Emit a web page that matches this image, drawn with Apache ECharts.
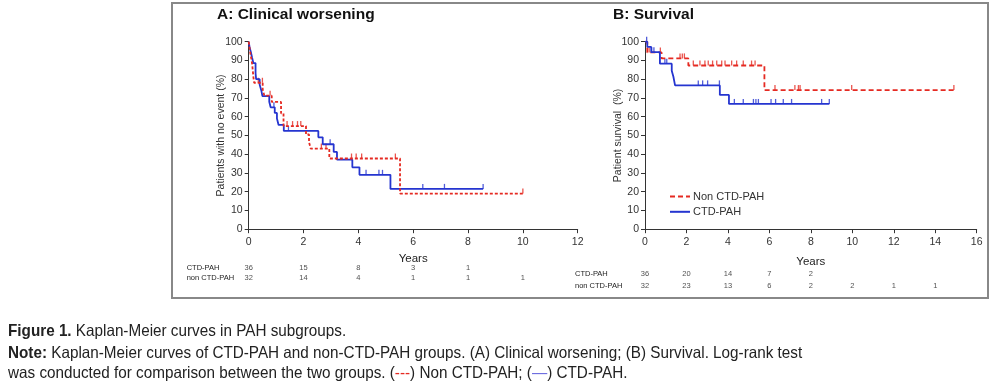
<!DOCTYPE html>
<html>
<head>
<meta charset="utf-8">
<script src="https://cdn.jsdelivr.net/npm/echarts@6/dist/echarts.min.js"></script>
<style>
html,body{margin:0;padding:0;background:#fff;}
#chart{width:995px;height:385px;}
</style>
</head>
<body>
<div id="chart"></div>
<script>
// ---------- Panel A: clinical worsening (time in years, % with no event) ----------
const ctdA = [[0,100],[0.03,97.2],[0.08,94.4],[0.12,91.7],[0.17,88.6],[0.25,83.3],[0.27,80],[0.40,77],[0.46,74],[0.50,71],[0.75,68],[0.80,65],[0.95,62],[1.03,59],[1.09,55.6],[1.28,52.4],[2.54,49],[2.70,45.3],[3.10,41.2],[3.22,37.1],[3.78,33],[4.04,29],[5.17,21.5],[8.55,21.5]];
const ctdACens = [[0.92,65],[1.45,52.4],[2.97,45.3],[4.28,29],[4.75,29],[4.88,29],[6.35,21.5],[7.14,21.5],[8.55,21.5]];
const nonA = [[0,100],[0.03,96.9],[0.06,93.8],[0.10,90.6],[0.13,87.5],[0.15,84.4],[0.17,81.3],[0.20,78.1],[0.51,74.6],[0.57,71.2],[0.84,67.9],[1.18,61.8],[1.27,55],[2.09,50.5],[2.20,46.5],[2.26,43],[2.94,37.7],[5.52,19],[10.0,19]];
const nonACens = [[0.35,78.1],[0.50,78.1],[0.78,71.2],[1.40,55],[1.60,55],[1.78,55],[1.90,55],[2.65,43],[2.82,43],[3.75,37.7],[3.92,37.7],[4.12,37.7],[5.35,37.7],[10.0,19]];

// ---------- Panel B: survival ----------
const ctdB = [[0,100],[0.11,97.2],[0.30,94.4],[0.72,88.3],[1.29,84.5],[1.37,81.3],[1.45,76.7],[3.61,71.6],[4.05,66.8],[8.89,66.8]];
const ctdBCens = [[0.08,100],[0.32,94.4],[0.43,94.4],[0.96,88.3],[1.05,88.3],[2.57,76.7],[2.78,76.7],[3.02,76.7],[3.59,76.7],[4.31,66.8],[4.74,66.8],[5.23,66.8],[5.35,66.8],[5.47,66.8],[6.08,66.8],[6.30,66.8],[6.67,66.8],[7.07,66.8],[8.52,66.8],[8.89,66.8]];
const nonB = [[0,100],[0.11,94.3],[0.80,91.1],[2.09,87.3],[5.76,74.2],[14.9,74.2]];
const nonBCens = [[0.20,94.3],[0.74,94.3],[1.69,91.1],[1.80,91.1],[1.90,91.1],[2.33,87.3],[2.65,87.3],[2.89,87.3],[3.05,87.3],[3.26,87.3],[3.46,87.3],[3.70,87.3],[3.86,87.3],[4.18,87.3],[4.42,87.3],[4.74,87.3],[5.14,87.3],[5.31,87.3],[6.27,74.2],[7.23,74.2],[7.40,74.2],[7.48,74.2],[9.97,74.2],[14.9,74.2]];

// ---------- Numbers at risk ----------
const riskRows = ['CTD-PAH', 'non CTD-PAH'];
const riskTimesA = [0, 2, 4, 6, 8, 10];
const riskCtdA = [36, 15, 8, 3, 1, null];
const riskNonA = [32, 14, 4, 1, 1, 1];
const riskTimesB = [0, 2, 4, 6, 8, 10, 12, 14];
const riskCtdB = [36, 20, 14, 7, 2, null, null, null];
const riskNonB = [32, 23, 13, 6, 2, 2, 1, 1];

// ---------- Text ----------
const titleA = 'A: Clinical worsening';
const titleB = 'B: Survival';
const yNameA = 'Patients with no event (%)';
const yNameB = 'Patient survival  (%)';
const xName = 'Years';
const caption1 = '{b|Figure 1.} Kaplan-Meier curves in PAH subgroups.';
const caption2 = '{b|Note:} Kaplan-Meier curves of CTD-PAH and non-CTD-PAH groups. (A) Clinical worsening; (B) Survival. Log-rank test';
const caption3 = 'was conducted for comparison between the two groups. ({r|---}) Non CTD-PAH; ({u|\u2014}) CTD-PAH.';

const RED = '#e52a22';
const BLUE = '#2535d0';
const AX = '#333';
const FONT = 'Liberation Sans, Arial, sans-serif';
const NARROW = 'Liberation Sans Narrow, Arial Narrow, Liberation Sans, Arial, sans-serif';

function riskData(times, counts, row) {
  const out = [];
  times.forEach((t, i) => { if (counts[i] != null) out.push([t, row, counts[i]]); });
  return out;
}

function plotX(gridIndex, max, gap) {
  return {
    type: 'value', gridIndex, min: 0, max, interval: 2,
    axisLine: { show: true, onZero: false, lineStyle: { color: AX, width: 1 } },
    axisTick: { show: true, length: 4, lineStyle: { color: AX } },
    axisLabel: { color: AX, fontFamily: FONT, fontSize: 10.5, margin: 7 },
    splitLine: { show: false },
    name: xName, nameLocation: 'middle', nameGap: gap,
    nameTextStyle: { color: '#222', fontFamily: FONT, fontSize: 11.5 }
  };
}
function plotY(gridIndex, name, gap) {
  return {
    type: 'value', gridIndex, min: 0, max: 100, interval: 10,
    axisLine: { show: true, lineStyle: { color: AX, width: 1 } },
    axisTick: { show: true, length: 4, lineStyle: { color: AX } },
    axisLabel: { color: AX, fontFamily: FONT, fontSize: 10.5, margin: 6 },
    splitLine: { show: false },
    name, nameLocation: 'middle', nameGap: gap, nameMoveOverlap: false,
    nameTextStyle: { color: '#333', fontFamily: FONT, fontSize: 10.5 }
  };
}
function tableX(gridIndex, max) {
  return { type: 'value', gridIndex, min: 0, max, show: false };
}
function tableY(gridIndex, margin) {
  return {
    type: 'category', gridIndex, data: riskRows, inverse: true,
    axisLine: { show: false }, axisTick: { show: false }, splitLine: { show: false },
    axisLabel: { interval: 0, align: 'left', margin, color: '#222', fontFamily: NARROW, fontSize: 7.5 }
  };
}
function kmLine(name, data, xi, yi, color, type) {
  return {
    name, type: 'line', xAxisIndex: xi, yAxisIndex: yi, data, step: 'end',
    symbol: 'none', showSymbol: false, silent: true,
    lineStyle: { color, width: 1.8, type }, itemStyle: { color }
  };
}
function censor(data, xi, yi, color) {
  return {
    type: 'scatter', xAxisIndex: xi, yAxisIndex: yi, data, silent: true,
    symbol: 'rect', symbolSize: [1.3, 5], symbolOffset: [0, -2.5],
    itemStyle: { color }
  };
}
function riskSeries(data, xi, yi) {
  return {
    type: 'scatter', xAxisIndex: xi, yAxisIndex: yi, data, silent: true,
    symbolSize: 0,
    label: { show: true, position: 'inside', formatter: p => p.value[2],
      color: '#222', fontFamily: NARROW, fontSize: 7.5 }
  };
}

const CAP_FONT = 'normal 16.5px ' + FONT;
const CAP_BOLD = 'bold 16.5px ' + FONT;
function captionText(text, y, extraRich) {
  return {
    type: 'text', x: 8, y, scaleX: 0.925, silent: true,
    style: {
      text, font: CAP_FONT, fill: '#222', verticalAlign: 'middle',
      rich: Object.assign({ b: { font: CAP_BOLD, fill: '#222' } }, extraRich || {})
    }
  };
}

const option = {
  animation: false,
  backgroundColor: '#fff',
  title: [
    { text: titleA, left: 217, top: 7, padding: 0, textStyle: { fontFamily: FONT, fontSize: 15.5, fontWeight: 'bold', color: '#111' } },
    { text: titleB, left: 613, top: 7, padding: 0, textStyle: { fontFamily: FONT, fontSize: 15.5, fontWeight: 'bold', color: '#111' } }
  ],
  legend: {
    data: ['Non CTD-PAH', 'CTD-PAH'], orient: 'vertical', left: 669, top: 191,
    itemWidth: 20, itemHeight: 14, itemGap: 4, selectedMode: false, padding: 0,
    itemStyle: { opacity: 0 },
    textStyle: { color: '#333', fontFamily: FONT, fontSize: 11, padding: [0, 0, 0, -2] }
  },
  graphic: [
    { type: 'rect', shape: { x: 172, y: 3, width: 816, height: 295 }, silent: true,
      style: { fill: 'none', stroke: '#888', lineWidth: 2 } },
    captionText(caption1, 331),
    captionText(caption2, 353),
    captionText(caption3, 373, {
      r: { font: CAP_FONT, fill: RED },
      u: { font: CAP_FONT, fill: '#6b6be0' }
    })
  ],
  grid: [
    { left: 248.7, top: 41.7, width: 329, height: 187.5 },
    { left: 645, top: 41.7, width: 331.7, height: 187.5 },
    { left: 248.7, top: 263, width: 329, height: 20 },
    { left: 645, top: 268, width: 331.7, height: 24 }
  ],
  xAxis: [plotX(0, 12, 24), plotX(1, 16, 27), tableX(2, 12), tableX(3, 16)],
  yAxis: [plotY(0, yNameA, 22), plotY(1, yNameB, 21), tableY(2, 62), tableY(3, 70)],
  series: [
    kmLine('CTD-PAH A', ctdA, 0, 0, BLUE, 'solid'),
    kmLine('Non CTD-PAH A', nonA, 0, 0, RED, [3, 2]),
    censor(ctdACens, 0, 0, BLUE),
    censor(nonACens, 0, 0, RED),
    kmLine('Non CTD-PAH', nonB, 1, 1, RED, [5, 3]),
    kmLine('CTD-PAH', ctdB, 1, 1, BLUE, 'solid'),
    censor(ctdBCens, 1, 1, BLUE),
    censor(nonBCens, 1, 1, RED),
    riskSeries(riskData(riskTimesA, riskCtdA, 0).concat(riskData(riskTimesA, riskNonA, 1)), 2, 2),
    riskSeries(riskData(riskTimesB, riskCtdB, 0).concat(riskData(riskTimesB, riskNonB, 1)), 3, 3)
  ]
};
const chart = echarts.init(document.getElementById('chart'), null, { renderer: 'canvas' });
chart.setOption(option);
</script>
</body>
</html>
